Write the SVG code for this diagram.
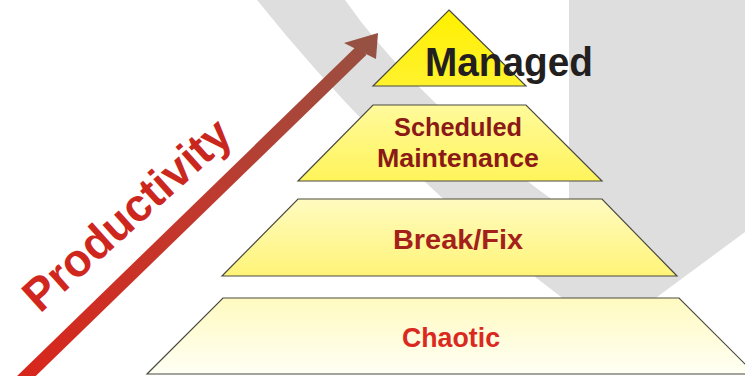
<svg xmlns="http://www.w3.org/2000/svg" width="745" height="376" viewBox="0 0 745 376">
  <defs>
    <linearGradient id="gTri" x1="0" y1="0" x2="0" y2="1">
      <stop offset="0" stop-color="#FFF000"/>
      <stop offset="1" stop-color="#FFF22E"/>
    </linearGradient>
    <linearGradient id="gT2" x1="0" y1="0" x2="0" y2="1">
      <stop offset="0" stop-color="#FFFA9C"/>
      <stop offset="1" stop-color="#FFF45A"/>
    </linearGradient>
    <linearGradient id="gT3" x1="0" y1="0" x2="0" y2="1">
      <stop offset="0" stop-color="#FFFBC0"/>
      <stop offset="1" stop-color="#FFF478"/>
    </linearGradient>
    <linearGradient id="gT4" x1="0" y1="0" x2="0" y2="1">
      <stop offset="0" stop-color="#FFFAC0"/>
      <stop offset="1" stop-color="#FFFFF4"/>
    </linearGradient>
    <linearGradient id="gArrow" gradientUnits="userSpaceOnUse" x1="20" y1="376" x2="378" y2="33">
      <stop offset="0" stop-color="#D8261C"/>
      <stop offset="0.5" stop-color="#C0392E"/>
      <stop offset="1" stop-color="#965142"/>
    </linearGradient>
    <linearGradient id="gText" gradientUnits="userSpaceOnUse" x1="20" y1="320" x2="235" y2="110">
      <stop offset="0" stop-color="#D2261D"/>
      <stop offset="1" stop-color="#C4281F"/>
    </linearGradient>
  </defs>
  <style>
    .tier { stroke: #4a4a40; stroke-width: 1.2; }
    .lbl { font-family: "Liberation Sans", Arial, sans-serif; font-weight: bold; text-anchor: middle; }
  </style>

  <g id="background">
    <path d="M257,0 Q394,171 565,300 L653,300 L745,232 L745,0 L569,0 L569,212 Q418,104 345,0 Z" fill="#DEDEDE"/>
  </g>

  <g id="connectors">
    <line x1="12" y1="390" x2="362" y2="50" stroke="url(#gArrow)" stroke-width="13"/>
    <polygon points="378,33 344,43 376,59" fill="#965142"/>
  </g>

  <g id="productivity">
    <text x="40" y="314" transform="rotate(-42 40 314)" font-family="'Liberation Sans', Arial, sans-serif" font-weight="bold" font-size="46" fill="url(#gText)" textLength="262" lengthAdjust="spacingAndGlyphs">Productivity</text>
  </g>

  <g id="chaotic">
    <polygon class="tier" points="223,298 679,298 755,374 147,374" fill="url(#gT4)"/>
    <text class="lbl" x="451" y="347" font-size="27" fill="#DA2A1F" textLength="98" lengthAdjust="spacingAndGlyphs">Chaotic</text>
  </g>

  <g id="breakfix">
    <polygon class="tier" points="298,199 602,199 677,276 222,276" fill="url(#gT3)"/>
    <text class="lbl" x="458" y="249" font-size="27" fill="#A3201B" textLength="130" lengthAdjust="spacingAndGlyphs">Break/Fix</text>
  </g>

  <g id="scheduled">
    <polygon class="tier" points="373,105 526,105 602,181 298,181" fill="url(#gT2)"/>
    <text class="lbl" x="458" y="136" font-size="25" fill="#8B1A17" textLength="128" lengthAdjust="spacingAndGlyphs">Scheduled</text>
    <text class="lbl" x="458" y="167" font-size="26" fill="#8B1A17" textLength="162" lengthAdjust="spacingAndGlyphs">Maintenance</text>
  </g>

  <g id="managed">
    <polygon class="tier" points="449,10 526,86 373,86" fill="url(#gTri)"/>
    <text x="425" y="76" font-family="'Liberation Sans', Arial, sans-serif" font-weight="bold" font-size="40" fill="#231F20" textLength="168" lengthAdjust="spacingAndGlyphs">Managed</text>
  </g>
</svg>
